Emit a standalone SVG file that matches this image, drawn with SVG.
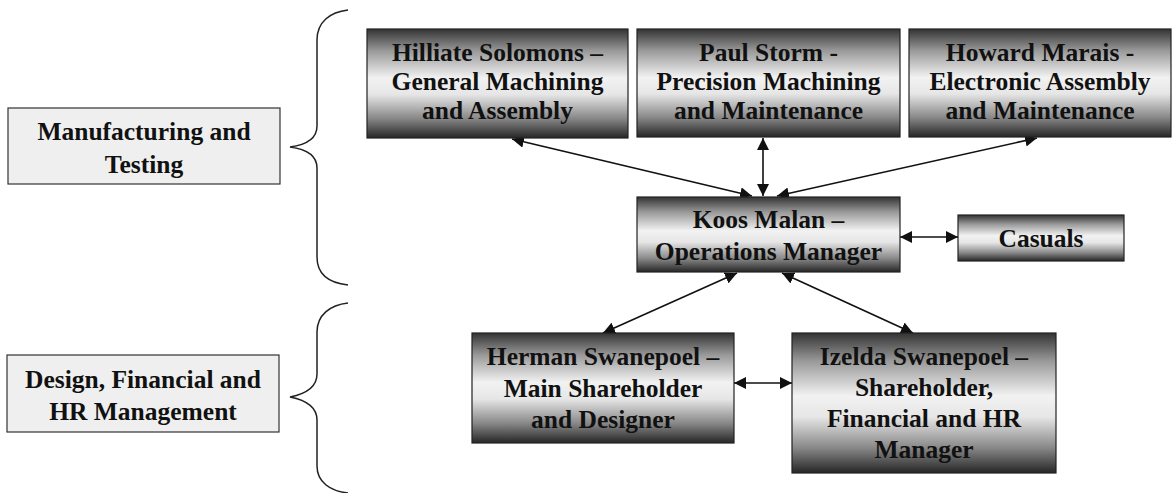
<svg xmlns="http://www.w3.org/2000/svg" width="1172" height="493" viewBox="0 0 1172 493">
<style>
.t{font-family:"Liberation Serif","Times New Roman",serif;font-weight:bold;font-size:25.5px;fill:#111;text-anchor:middle}
.g{fill:url(#grad);stroke:#222;stroke-width:1.2}
.l{fill:#efefef;stroke:#333;stroke-width:1.2}
.c{stroke:#111;stroke-width:1.6;fill:none;marker-start:url(#ah);marker-end:url(#ah)}
.b{stroke:#222;stroke-width:1.5;fill:none}
</style>
<defs>
<linearGradient id="grad" x1="0" y1="0" x2="0" y2="1">
<stop offset="0" stop-color="#333"/>
<stop offset="0.2" stop-color="#999"/>
<stop offset="0.45" stop-color="#f2f2f2"/>
<stop offset="0.6" stop-color="#e6e6e6"/>
<stop offset="0.82" stop-color="#888"/>
<stop offset="1" stop-color="#262626"/>
</linearGradient>
<marker id="ah" viewBox="0 0 10 10" refX="10" refY="5" markerWidth="7.5" markerHeight="7.5" orient="auto-start-reverse" markerUnits="strokeWidth">
<path d="M0,0 L10,5 L0,10 Z" fill="#111"/>
</marker>
</defs>
<rect width="1172" height="493" fill="#fff"/>
<g id="braces">
<path class="b" d="M348,10 C330,12 317,22 317,40 L317,126 C317,140 305,145 290,147 C305,149 317,154 317,168 L317,257 C317,275 330,283 348,285"/>
<path class="b" d="M348,303 C330,305 317,315 317,332 L317,374 C317,388 305,394 290,397 C305,400 317,406 317,420 L317,466 C317,482 330,491 348,493"/>
</g>
<g id="connectors">
<line class="c" x1="512" y1="139" x2="752" y2="196"/>
<line class="c" x1="763" y1="138" x2="763" y2="196"/>
<line class="c" x1="1037" y1="138" x2="777" y2="196"/>
<line class="c" x1="900" y1="237" x2="958" y2="237"/>
<line class="c" x1="737" y1="273" x2="603" y2="333"/>
<line class="c" x1="782" y1="273" x2="913" y2="333"/>
<line class="c" x1="734" y1="383" x2="792" y2="383"/>
</g>
<g id="manufacturing">
<rect class="l" x="8" y="108" width="272" height="76"/>
<text class="t" x="144" y="140">Manufacturing and</text>
<text class="t" x="144" y="173">Testing</text>
</g>
<g id="design">
<rect class="l" x="7" y="355" width="272" height="77"/>
<text class="t" x="143" y="388">Design, Financial and</text>
<text class="t" x="143" y="420">HR Management</text>
</g>
<g id="hilliate">
<rect class="g" x="367" y="29" width="261" height="109"/>
<text class="t" x="497.5" y="61">Hilliate Solomons –</text>
<text class="t" x="497.5" y="90">General Machining</text>
<text class="t" x="497.5" y="119">and Assembly</text>
</g>
<g id="paul">
<rect class="g" x="637" y="29" width="263" height="108"/>
<text class="t" x="768.5" y="61">Paul Storm -</text>
<text class="t" x="768.5" y="90">Precision Machining</text>
<text class="t" x="768.5" y="119">and Maintenance</text>
</g>
<g id="howard">
<rect class="g" x="909" y="29" width="262" height="108"/>
<text class="t" x="1040" y="61">Howard Marais -</text>
<text class="t" x="1040" y="90">Electronic Assembly</text>
<text class="t" x="1040" y="119">and Maintenance</text>
</g>
<g id="koos">
<rect class="g" x="637" y="197" width="263" height="75"/>
<text class="t" x="768.5" y="228">Koos Malan –</text>
<text class="t" x="768.5" y="260">Operations Manager</text>
</g>
<g id="casuals">
<rect class="g" x="958" y="215" width="166" height="46"/>
<text class="t" x="1041" y="247">Casuals</text>
</g>
<g id="herman">
<rect class="g" x="472" y="333" width="262" height="110"/>
<text class="t" x="603" y="365">Herman Swanepoel –</text>
<text class="t" x="603" y="397">Main Shareholder</text>
<text class="t" x="603" y="428">and Designer</text>
</g>
<g id="izelda">
<rect class="g" x="792" y="333" width="264" height="140"/>
<text class="t" x="924" y="365">Izelda Swanepoel –</text>
<text class="t" x="924" y="396">Shareholder,</text>
<text class="t" x="924" y="427">Financial and HR</text>
<text class="t" x="924" y="458">Manager</text>
</g>
</svg>
